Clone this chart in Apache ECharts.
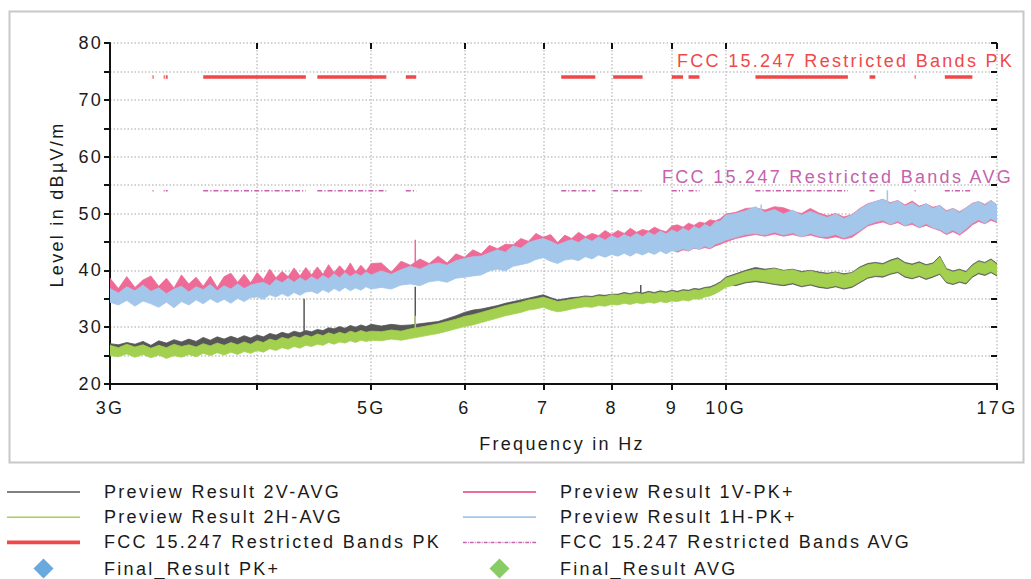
<!DOCTYPE html>
<html>
<head>
<meta charset="utf-8">
<script src="https://cdn.jsdelivr.net/npm/echarts@6/dist/echarts.min.js"></script>
<style>
html,body{margin:0;padding:0;background:#fff;}
#chart{width:1031px;height:579px;}
#chart text{letter-spacing:2.3px;}
</style>
</head>
<body>
<div id="chart"></div>
<script>
// Frequency sweep (GHz)
const freqGHz = [
3.00,3.05,3.10,3.15,3.20,3.25,3.30,3.35,3.40,3.45,
3.50,3.55,3.60,3.65,3.70,3.75,3.80,3.85,3.90,3.95,
4.00,4.05,4.10,4.15,4.20,4.25,4.30,4.35,4.40,4.45,
4.50,4.55,4.60,4.65,4.70,4.75,4.80,4.85,4.90,4.95,5.00,
5.1,5.2,5.3,5.4,5.5,5.6,5.7,5.8,5.9,6.0,
6.1,6.2,6.3,6.4,6.5,6.6,6.7,6.8,6.9,7.0,
7.1,7.2,7.3,7.4,7.5,7.6,7.7,7.8,7.9,8.0,
8.1,8.2,8.3,8.4,8.5,8.6,8.7,8.8,8.9,9.0,
9.1,9.2,9.3,9.4,9.5,9.6,9.7,9.8,9.9,10.0,
10.2,10.4,10.6,10.8,11.0,
11.2,11.4,11.6,11.8,12.0,
12.2,12.4,12.6,12.8,13.0,
13.2,13.4,13.6,13.8,14.0,
14.2,14.4,14.6,14.8,15.0,
15.2,15.4,15.6,15.8,16.0,
16.2,16.4,16.6,16.8,17.0
];
// Preview Result 1H-PK+ (upper / lower envelope, dBµV/m)
const pk1HHi = [
36.8,36.0,37.1,36.4,37.4,36.3,36.9,35.9,36.7,37.2,
36.2,37.1,36.6,37.5,36.4,37.3,36.7,37.6,36.8,37.4,
37.7,37.9,37.3,38.4,37.8,38.6,37.9,38.7,38.1,38.9,
38.3,39.1,38.5,39.4,38.7,39.6,38.9,39.5,39.0,39.7,39.2,
39.9,39.3,40.1,40.7,40.2,41.0,41.3,40.9,41.7,42.1,
42.4,42.5,43.1,43.6,43.2,44.3,43.9,44.9,45.3,45.6,
45.1,44.5,45.0,45.4,44.9,45.7,45.1,45.9,45.3,46.1,
45.6,46.3,45.8,46.5,45.9,46.7,46.2,46.9,46.4,47.1,
46.7,47.4,46.9,47.7,47.3,48.1,47.6,48.5,48.7,49.7,
50.0,50.5,51.2,50.2,50.7,
49.9,50.6,49.7,50.4,49.8,
49.3,49.9,49.1,49.7,50.8,
51.6,52.1,52.5,51.7,52.3,
51.3,51.9,51.1,51.7,50.9,
51.4,50.3,50.9,50.1,51.0,
51.7,52.1,51.4,52.3,51.5
];
const pk1HLo = [
34.4,33.9,34.7,33.7,34.6,34.1,33.5,34.4,33.4,34.5,
33.9,34.8,34.1,35.0,34.3,34.9,34.2,35.1,34.5,35.2,
35.3,34.9,35.7,35.3,35.9,35.4,36.1,35.6,36.2,36.3,
35.9,36.6,36.1,36.8,36.3,37.0,36.4,36.9,36.5,37.1,36.7,
37.0,36.7,37.4,37.6,37.3,38.0,38.2,37.9,38.6,38.8,
39.0,39.2,39.9,40.2,39.9,40.7,41.0,41.3,41.9,42.2,
41.6,41.2,41.8,42.0,41.7,42.4,42.0,42.7,42.3,42.8,
42.5,43.0,42.5,43.1,42.7,43.2,42.8,43.4,42.9,43.4,
43.4,43.8,43.4,44.0,43.7,44.3,43.9,44.6,44.9,45.3,
45.8,46.3,46.5,46.2,46.7,
46.2,46.6,45.9,46.5,46.0,
45.9,46.3,45.7,46.2,47.0,
48.0,48.5,48.8,48.1,48.7,
47.9,48.4,47.6,48.2,47.5,
47.2,46.5,47.1,46.4,47.3,
48.3,48.9,48.3,49.1,48.6
];
// Preview Result 1V-PK+
const pk1VHi = [
38.6,36.8,38.9,37.0,38.3,39.0,37.2,38.6,36.9,39.2,
37.6,38.8,37.2,39.0,37.0,38.9,39.5,37.9,39.3,37.8,
39.6,38.4,40.2,38.7,39.8,38.9,40.4,39.0,40.5,39.2,
40.6,39.3,41.0,39.6,40.8,39.8,41.3,39.7,40.9,39.9,41.2,
41.3,39.7,41.6,40.9,42.0,41.2,42.5,41.3,42.9,42.3,
43.6,42.9,44.4,43.8,44.6,44.5,45.6,45.1,46.5,45.8,
46.3,44.9,46.2,45.6,46.7,45.9,46.5,46.1,47.0,46.3,
47.0,46.5,47.4,46.7,47.2,46.9,47.6,47.1,46.8,47.8,
48.0,47.6,48.3,47.9,48.5,48.3,48.9,48.7,49.1,49.9,
50.2,50.9,51.0,50.6,51.2,
51.0,50.4,50.0,50.9,50.1,
49.6,50.0,49.4,49.8,50.9,
51.7,52.1,52.5,51.9,52.3,
51.5,52.2,51.3,51.7,51.1,
51.4,50.5,50.9,50.3,51.0,
51.8,52.1,51.6,52.3,51.5
];
const pk1VLo = [
35.0,34.8,35.2,34.6,35.0,34.9,34.5,35.0,34.4,35.1,
34.8,35.3,35.0,35.5,35.2,35.5,35.0,35.7,35.3,35.8,
35.9,35.7,36.2,36.0,36.4,36.2,36.6,36.4,36.8,36.9,
36.7,37.1,36.9,37.3,37.0,37.5,37.2,37.4,37.2,37.6,37.3,
37.6,37.5,37.9,38.2,38.0,38.5,38.8,38.6,39.1,39.4,
39.6,39.9,40.4,40.8,40.6,41.2,41.6,42.0,42.4,42.8,
42.2,41.9,42.3,42.6,42.4,42.9,42.5,43.0,42.8,43.1,
42.9,43.3,43.0,43.4,43.2,43.5,43.3,43.6,43.3,43.6,
43.2,43.6,43.4,43.9,43.7,44.0,43.8,44.3,44.6,45.0,
45.6,46.0,46.3,46.0,46.4,
46.0,46.3,45.9,46.2,45.8,
45.6,45.9,45.5,45.8,46.8,
47.8,48.2,48.5,48.0,48.4,
47.8,48.1,47.5,47.9,47.4,
47.0,46.3,46.8,46.2,47.0,
48.0,48.6,48.2,48.8,48.4
];
// Preview Result 2H-AVG
const avg2HHi = [
26.8,26.4,27.0,26.5,26.9,26.3,26.8,26.4,27.0,26.6,
26.9,26.5,27.1,26.7,27.2,26.8,27.3,26.9,27.4,27.0,
27.6,27.3,27.9,27.6,28.2,27.9,28.4,28.1,28.6,28.3,
28.8,28.5,29.0,28.7,29.1,28.8,29.3,29.0,29.4,29.1,29.3,
29.2,29.5,29.3,29.7,30.0,30.3,30.6,31.0,31.4,31.9,
32.2,32.6,33.0,33.4,33.8,34.1,34.4,34.8,35.0,35.3,
34.9,34.5,34.7,34.9,35.1,35.3,35.2,35.5,35.4,35.7,
35.6,35.9,35.7,36.0,35.8,36.1,35.9,36.2,36.0,36.3,
36.1,36.4,36.3,36.6,36.5,36.8,36.9,37.3,37.8,38.6,
39.2,39.8,40.2,40.0,40.3,
39.9,40.1,39.6,39.9,39.5,
39.3,39.6,39.2,39.5,40.4,
41.0,41.2,41.0,41.6,42.0,
41.2,40.9,41.3,40.8,41.1,
42.3,40.1,39.7,40.0,39.6,
40.8,41.5,41.2,41.8,41.0
];
const avg2HLo = [
25.0,24.8,25.3,24.7,25.2,24.6,25.1,24.5,25.0,24.7,
25.2,24.8,25.4,25.0,25.5,25.1,25.6,25.2,25.7,25.4,
25.9,25.6,26.2,25.9,26.4,26.1,26.6,26.3,26.8,26.6,
27.0,26.8,27.3,27.0,27.4,27.2,27.6,27.3,27.7,27.5,27.7,
27.6,27.9,27.7,28.0,28.3,28.6,28.9,29.3,29.7,30.1,
30.4,30.8,31.2,31.6,32.0,32.3,32.6,33.0,33.2,33.5,
33.0,32.7,32.9,33.2,33.4,33.6,33.5,33.8,33.7,34.0,
33.9,34.2,34.0,34.3,34.1,34.4,34.2,34.5,34.3,34.6,
34.5,34.8,34.6,35.0,34.9,35.3,35.5,35.9,36.4,37.0,
37.5,38.0,38.2,38.0,37.7,
37.5,37.8,37.3,37.6,37.2,
37.0,37.3,36.9,37.2,38.0,
38.8,39.1,39.0,39.5,39.8,
39.0,38.7,39.1,38.6,39.0,
39.5,38.0,37.7,38.1,37.8,
39.0,39.6,39.3,39.8,39.2
];
// Preview Result 2V-AVG
const avg2VHi = [
27.1,26.9,27.3,27.0,27.5,26.8,27.6,27.2,27.8,27.4,
27.9,27.5,28.2,27.7,28.3,27.9,28.4,28.0,28.5,28.1,
28.6,28.3,28.9,28.6,29.1,28.8,29.3,29.0,29.4,29.2,
29.6,29.4,29.9,29.7,30.1,29.8,30.3,30.0,30.4,30.1,30.5,
30.2,30.5,30.3,30.4,30.6,30.8,31.0,31.5,32.0,32.6,
33.0,33.2,33.5,33.8,34.2,34.5,34.8,35.1,35.4,35.7,
35.2,34.8,35.0,35.2,35.3,35.5,35.4,35.7,35.6,35.8,
35.8,36.1,35.9,36.2,36.0,36.3,36.1,36.4,36.2,36.5,
36.3,36.6,36.5,36.8,36.7,37.0,37.1,37.5,38.0,38.8,
39.4,40.0,40.5,40.2,40.4,
40.0,40.2,39.8,40.0,39.7,
39.5,39.7,39.4,39.6,40.6,
41.2,41.4,41.2,41.8,42.2,
41.4,41.1,41.5,41.0,41.3,
42.5,40.3,39.9,40.2,39.8,
41.0,41.7,41.4,42.0,41.2
];
const avg2VLo = [
25.6,25.4,25.8,25.3,25.7,25.2,25.6,25.1,25.6,25.3,
25.7,25.4,25.9,25.6,26.0,25.7,26.1,25.8,26.2,26.0,
26.4,26.2,26.7,26.5,26.9,26.7,27.1,26.9,27.3,27.1,
27.5,27.3,27.8,27.5,27.9,27.7,28.1,27.8,28.2,28.0,28.2,
28.1,28.4,28.2,28.5,28.8,29.1,29.4,29.8,30.2,30.6,
30.9,31.3,31.7,32.1,32.5,32.8,33.1,33.5,33.7,34.0,
33.5,33.2,33.4,33.7,33.9,34.1,34.0,34.3,34.2,34.5,
34.4,34.7,34.5,34.8,34.6,34.9,34.7,35.0,34.8,35.1,
35.0,35.3,35.1,35.5,35.4,35.8,36.0,36.4,36.9,37.5,
37.3,37.8,38.0,37.8,37.5,
37.3,37.6,37.1,37.4,37.0,
36.8,37.1,36.7,37.0,37.8,
38.6,38.9,38.8,39.3,39.6,
38.8,38.5,38.9,38.4,38.8,
39.3,37.8,37.5,37.9,37.6,
38.8,39.4,39.1,39.6,39.0
];
// Narrow spikes (frequency GHz, base level, peak level)
const spikePkVFreq = [5.45];
const spikePkVBase = [40.6];
const spikePkVTop = [45.4];
const spikePkHFreq = [10.72, 13.72];
const spikePkHBase = [50.0, 51.5];
const spikePkHTop = [51.6, 54.1];
const spikeAvgVFreq = [4.385, 5.45, 8.47];
const spikeAvgVBase = [28.8, 30.2, 36.0];
const spikeAvgVTop = [35.0, 37.1, 37.4];
const spikeAvgHFreq = [5.45];
const spikeAvgHBase = [29.0];
const spikeAvgHTop = [32.0];
// FCC 15.247 restricted bands (GHz) and limits
const bandStart = [3.26, 3.332, 3.3458, 3.6, 4.5, 5.35, 7.25, 8.025, 9.0, 9.3, 10.6, 13.25, 14.47, 15.35];
const bandEnd   = [3.267, 3.339, 3.358, 4.4, 5.15, 5.46, 7.75, 8.5, 9.2, 9.5, 12.7, 13.4, 14.5, 16.2];
const limitPK = 74;
const limitAVG = 54;
// Axis ticks
const xTickValues = [3, 4, 5, 6, 7, 8, 9, 10, 17];
const xLabelValues = [3, 5, 6, 7, 8, 9, 10, 17];
const xLabelTexts = ['3G', '5G', '6', '7', '8', '9', '10G', '17G'];
const yMin = 20, yMax = 80, yStep = 5;

const FONT = 'Liberation Sans, Arial, sans-serif';
const TXT = '#1a1a1a';
const C = {
  pink: '#ef6b97', blue: '#a3c7ea', gray: '#575757', green: '#a3d04f',
  red: '#f04848', magenta: '#c462ae', dBlue: '#4394d6', dGreen: '#6cbf3f'
};

// Band between lower and upper envelope, drawn through the axes' scales
function bandSeries(name, color, lo, hi) {
  return {
    name: name, type: 'custom', coordinateSystem: 'cartesian2d', silent: true, clip: true,
    itemStyle: { color: color },
    data: [[freqGHz[0], lo[0]]],
    renderItem: function (params, api) {
      const pts = [];
      for (let i = 0; i < freqGHz.length; i++) pts.push(api.coord([freqGHz[i], hi[i]]));
      for (let i = freqGHz.length - 1; i >= 0; i--) pts.push(api.coord([freqGHz[i], lo[i]]));
      return { type: 'polygon', shape: { points: pts }, style: { fill: color, stroke: color, lineWidth: 0.8 } };
    }
  };
}
function spikeSeries(name, color, fr, base, top, w) {
  const d = [];
  fr.forEach((f, i) => { d.push([f, base[i]], [f, top[i]], [f, '-']); });
  return { name: name, type: 'line', symbol: 'none', silent: true, data: d,
    lineStyle: { color: color, width: w }, connectNulls: false };
}
function limitData(v) {
  const d = [];
  bandStart.forEach((s, i) => { d.push([s, v], [bandEnd[i], v], [bandEnd[i], '-']); });
  return d;
}
function dashPath() {
  let p = 'path://';
  let x = 0;
  while (x < 100) {
    const w1 = Math.min(5, 100 - x); p += 'M' + x + ',0h' + w1 + 'v2h-' + w1 + 'z'; x += w1 + 1.6;
    if (x < 99) { p += 'M' + x + ',0h1.2v2h-1.2z'; x += 2.8; }
  }
  return p;
}
const linePath = h => 'path://M0,0H100V' + h + 'H0Z';
const diamond = 'path://M5,0L10,5L5,10L0,5Z';

const chart = echarts.init(document.getElementById('chart'), null, { renderer: 'svg', width: 1031, height: 579 });
const legendCommon = {
  orient: 'vertical', itemWidth: 73, itemHeight: 20, itemGap: 7.2, selectedMode: false,
  padding: 0, height: 140,
  itemStyle: { borderWidth: 0 },
  textStyle: { fontSize: 18, fontFamily: FONT, color: TXT, padding: [0, 0, 0, 19] }
};
const yAxisBase = { type: 'value', min: yMin, max: yMax, interval: yStep, gridIndex: 0 };
const xAxisBase = { type: 'log', logBase: 10, min: 3, max: 17, gridIndex: 0 };

chart.setOption({
  animation: false,
  backgroundColor: '#fff',
  grid: { left: 110, right: 34, top: 43, bottom: 195, containLabel: false, outerBoundsMode: 'none' },
  xAxis: [
    Object.assign({}, xAxisBase, {
      name: 'Frequency in Hz', nameLocation: 'middle', nameGap: 51,
      nameTextStyle: { fontSize: 18, fontFamily: FONT, color: TXT, padding: [0, 0, 0, 17] },
      axisLine: { show: true, onZero: false, lineStyle: { color: '#111', width: 2 } },
      axisTick: { show: true, inside: false, length: 6, customValues: xTickValues, lineStyle: { color: '#111', width: 2 } },
      axisLabel: { show: true, margin: 15, customValues: xLabelValues, fontSize: 18, fontFamily: FONT, color: TXT,
        formatter: v => { const i = xLabelValues.findIndex(t => Math.abs(t - v) < 1e-6); return i >= 0 ? xLabelTexts[i] : ''; } },
      splitLine: { show: true, lineStyle: { color: '#c4c4c4', width: 1.5, type: [1.5, 2] } },
      minorTick: { show: false }, minorSplitLine: { show: false }
    }),
    Object.assign({}, xAxisBase, {
      axisLine: { show: false }, axisLabel: { show: false }, splitLine: { show: false },
      axisTick: { show: true, inside: true, length: 6, customValues: xTickValues, lineStyle: { color: '#111', width: 2 } }
    })
  ],
  yAxis: [
    Object.assign({}, yAxisBase, {
      name: 'Level in dBµV/m', nameLocation: 'middle', nameGap: 44, nameRotate: 90,
      nameTextStyle: { fontSize: 18, fontFamily: FONT, color: TXT, padding: [0, 0, 0, 18] },
      axisLine: { show: true, onZero: false, lineStyle: { color: '#111', width: 2 } },
      axisTick: { show: true, inside: false, length: 6, lineStyle: { color: '#111', width: 2 } },
      axisLabel: { margin: 7, fontSize: 18, fontFamily: FONT, color: TXT, formatter: v => (v % 10 === 0 ? String(v) : '') },
      splitLine: { show: true, lineStyle: { color: '#c4c4c4', width: 1.5, type: [1.5, 2] } }
    }),
    Object.assign({}, yAxisBase, {
      axisLine: { show: false }, axisLabel: { show: false }, splitLine: { show: false },
      axisTick: { show: true, inside: true, length: 6, lineStyle: { color: '#111', width: 2 } }
    })
  ],
  legend: [
    Object.assign({}, legendCommon, { left: 7, top: 483, data: [
      { name: 'Preview Result 2V-AVG', icon: linePath(2) },
      { name: 'Preview Result 2H-AVG', icon: linePath(2) },
      { name: 'FCC 15.247 Restricted Bands PK', icon: linePath(5) },
      { name: 'Final_Result PK+', icon: diamond }
    ] }),
    Object.assign({}, legendCommon, { left: 463, top: 483, data: [
      { name: 'Preview Result 1V-PK+', icon: linePath(2.4) },
      { name: 'Preview Result 1H-PK+', icon: linePath(2.4) },
      { name: 'FCC 15.247 Restricted Bands AVG', icon: dashPath() },
      { name: 'Final_Result AVG', icon: diamond }
    ] })
  ],
  graphic: [
    { type: 'rect', left: 7, top: 9, silent: true, z: -10,
      shape: { width: 1014, height: 451 }, style: { fill: 'none', stroke: '#c8c8c8', lineWidth: 2 } },
    { type: 'text', left: 677, top: 52, silent: true,
      style: { text: 'FCC 15.247 Restricted Bands PK', fill: C.red, fontSize: 18, fontFamily: FONT } },
    { type: 'text', left: 662, top: 168, silent: true,
      style: { text: 'FCC 15.247 Restricted Bands AVG', fill: C.magenta, fontSize: 18, fontFamily: FONT } }
  ],
  series: [].concat(
    [bandSeries('Preview Result 1V-PK+', C.pink, pk1VLo, pk1VHi)],
    [spikeSeries('spike 1V', C.pink, spikePkVFreq, spikePkVBase, spikePkVTop, 1.5)],
    [bandSeries('Preview Result 1H-PK+', C.blue, pk1HLo, pk1HHi)],
    [spikeSeries('spike 1H', C.blue, spikePkHFreq, spikePkHBase, spikePkHTop, 1.5)],
    [bandSeries('Preview Result 2V-AVG', C.gray, avg2VLo, avg2VHi)],
    [spikeSeries('spike 2V', C.gray, spikeAvgVFreq, spikeAvgVBase, spikeAvgVTop, 1.5)],
    [bandSeries('Preview Result 2H-AVG', C.green, avg2HLo, avg2HHi)],
    [spikeSeries('spike 2H', C.green, spikeAvgHFreq, spikeAvgHBase, spikeAvgHTop, 1.5)],
    [
      { name: 'FCC 15.247 Restricted Bands PK', type: 'line', symbol: 'none', silent: true, connectNulls: false,
        data: limitData(limitPK), itemStyle: { color: C.red }, lineStyle: { color: C.red, width: 3.5, cap: 'butt' } },
      { name: 'FCC 15.247 Restricted Bands AVG', type: 'line', symbol: 'none', silent: true, connectNulls: false,
        data: limitData(limitAVG), itemStyle: { color: C.magenta }, lineStyle: { color: C.magenta, width: 1.5, type: [5, 2, 1.2, 2] } },
      { name: 'Final_Result PK+', type: 'scatter', symbol: 'diamond', data: [], itemStyle: { color: C.dBlue } },
      { name: 'Final_Result AVG', type: 'scatter', symbol: 'diamond', data: [], itemStyle: { color: C.dGreen } }
    ]
  )
});
</script>
</body>
</html>
